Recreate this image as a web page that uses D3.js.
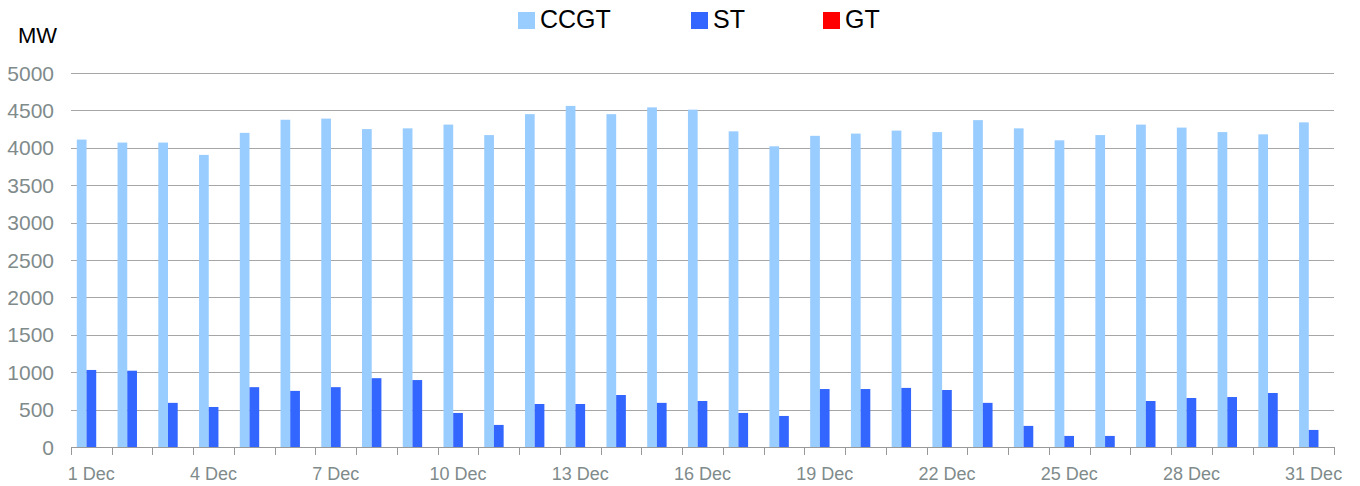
<!DOCTYPE html>
<html lang="en">
<head>
  <meta charset="UTF-8">
  <title>Daily generation by plant type, December</title>
  <script src="https://d3js.org/d3.v7.min.js"></script>
  <style>
    body { margin: 0; background: #fff; }
    text { font-family: "Liberation Sans", Arial, sans-serif; }
  </style>
</head>
<body>
  <svg id="chart" width="1360" height="486"></svg>
  <script>
    // data
    const days = d3.range(1, 32).map(d => d + ' Dec');
    const seriesNames = ['CCGT', 'ST', 'GT'];
    const ccgt = [4110, 4070, 4070, 3905, 4200, 4375, 4390, 4250, 4260, 4310,
                  4170, 4450, 4560, 4450, 4540, 4510, 4220, 4020, 4160, 4190,
                  4230, 4210, 4370, 4260, 4100, 4170, 4310, 4270, 4210, 4180, 4340];
    const st = [1030, 1020, 590, 535, 800, 750, 800, 920, 895, 455,
                295, 575, 575, 695, 590, 615, 455, 415, 775, 775,
                790, 762, 590, 282, 148, 148, 615, 655, 668, 722, 228];
    const gt = days.map(() => 0);
    const yTicks = [0, 500, 1000, 1500, 2000, 2500, 3000, 3500, 4000, 4500, 5000];
    const colors = ['#99ccff', '#3366ff', '#ff0000'];

    const values = [ccgt, st, gt];
    const rows = days.map((d, i) => ({ day: d, vals: values.map(s => s[i]) }));

    const svg = d3.select('#chart');
    const m = { left: 71, right: 1334, top: 73, bottom: 447 };

    const x = d3.scaleBand().domain(days).range([m.left, m.right]).paddingInner(0).paddingOuter(0);
    const inner = d3.scaleBand().domain(seriesNames).range([0, x.bandwidth()]).paddingInner(0).paddingOuter(0.6);
    const y = d3.scaleLinear().domain([0, 5000]).range([m.bottom, m.top]);

    // gridlines
    svg.append('g')
      .selectAll('line')
      .data(yTicks.filter(t => t > 0))
      .join('line')
      .attr('x1', m.left).attr('x2', m.right)
      .attr('y1', d => Math.round(y(d)) + 0.5).attr('y2', d => Math.round(y(d)) + 0.5)
      .attr('stroke', '#a6a6a6');

    // y tick labels
    svg.append('g')
      .selectAll('text')
      .data(yTicks)
      .join('text')
      .attr('x', 54)
      .attr('y', d => y(d))
      .attr('dy', '0.36em')
      .attr('text-anchor', 'end')
      .attr('font-size', 21)
      .attr('fill', '#7f8b8b')
      .text(d => d);

    svg.append('text')
      .attr('x', 18).attr('y', 43)
      .attr('font-size', 22)
      .attr('fill', '#000')
      .text('MW');

    // bars
    const groups = svg.append('g')
      .selectAll('g')
      .data(rows)
      .join('g')
      .attr('transform', d => `translate(${x(d.day)},0)`);

    groups.selectAll('rect')
      .data(d => d.vals.map((v, k) => ({ name: seriesNames[k], v, k })))
      .join('rect')
      .attr('x', d => inner(d.name))
      .attr('width', inner.bandwidth())
      .attr('y', d => y(d.v))
      .attr('height', d => y(0) - y(d.v))
      .attr('fill', d => colors[d.k]);

    // x axis
    const xAxis = svg.append('g').attr('transform', `translate(0,${m.bottom})`);
    xAxis.append('line')
      .attr('x1', m.left).attr('x2', m.right)
      .attr('y1', 0.5).attr('y2', 0.5)
      .attr('stroke', '#999');
    const bounds = days.map(d => x(d)).concat([m.right]);
    xAxis.selectAll('line.tick')
      .data(bounds)
      .join('line')
      .attr('class', 'tick')
      .attr('x1', d => Math.round(d) + 0.5).attr('x2', d => Math.round(d) + 0.5)
      .attr('y1', 0).attr('y2', 8)
      .attr('stroke', '#999');
    xAxis.selectAll('text')
      .data(days.filter((d, i) => i % 3 === 0))
      .join('text')
      .attr('x', d => x(d) + x.bandwidth() / 2)
      .attr('y', 33)
      .attr('text-anchor', 'middle')
      .attr('font-size', 18)
      .attr('fill', '#7f8b8b')
      .text(d => d);

    // legend
    const legendX = [518, 691, 823];
    const legend = svg.append('g')
      .selectAll('g')
      .data(seriesNames)
      .join('g')
      .attr('transform', (d, i) => `translate(${legendX[i]},12)`);
    legend.append('rect')
      .attr('width', 17).attr('height', 17)
      .attr('fill', (d, i) => colors[i]);
    legend.append('text')
      .attr('x', 22).attr('y', 16)
      .attr('font-size', 25)
      .attr('fill', '#000')
      .text(d => d);
  </script>
</body>
</html>
